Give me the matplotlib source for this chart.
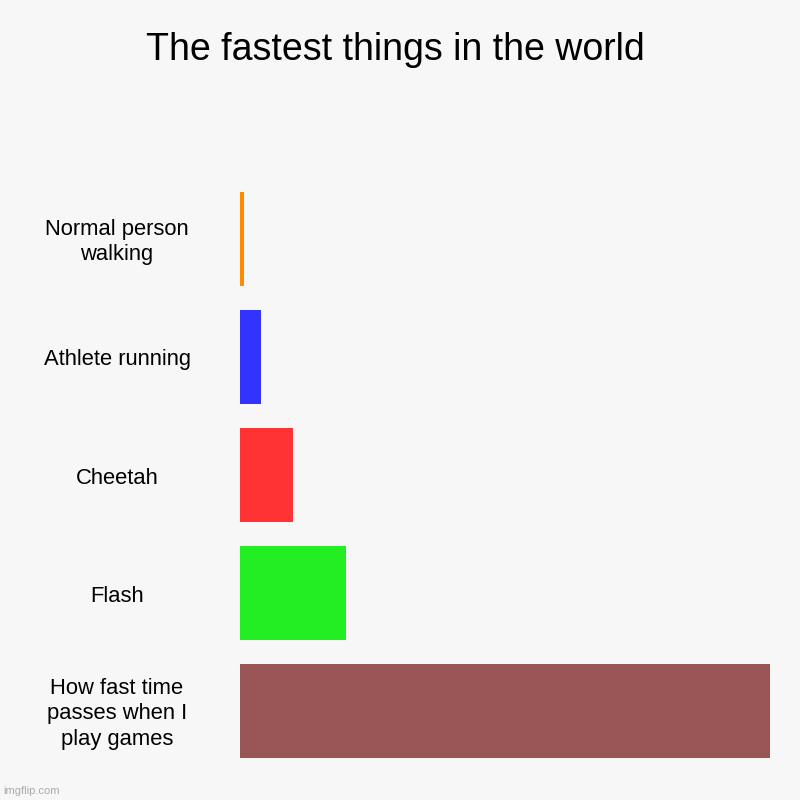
import matplotlib.pyplot as plt

plt.rcParams['font.family'] = ['Liberation Sans', 'DejaVu Sans']

labels = ['Normal person\nwalking', 'Athlete running', 'Cheetah', 'Flash',
          'How fast time\npasses when I\nplay games']
speeds = [0.8, 4, 10, 20, 100]
colors = ['#ff8c00', '#3333ff', '#ff3333', '#22ee22', '#995555']

bg = '#f7f7f7'
fig = plt.figure(figsize=(8, 8), dpi=100, facecolor=bg)
ax = fig.add_axes([0.3, 0.0375, 530 / 800, 0.7375])
ax.set_facecolor(bg)

pos = list(range(len(labels)))
ax.barh(pos, speeds, height=0.8, color=colors)
ax.set_xlim(0, max(speeds))
ax.set_ylim(len(labels) - 0.5, -0.5)
ax.axis('off')

# category labels, centred in the left margin
for i, lab in enumerate(labels):
    y_fig = 0.0375 + 0.7375 * (len(labels) - 0.5 - i) / len(labels) - 3 / 800
    fig.text(117 / 800, y_fig, lab, ha='center', va='center',
             fontsize=15.8, linespacing=1.26)

fig.text(395 / 800, 1 - 50 / 800, 'The fastest things in the world',
         ha='center', va='center', fontsize=27)
fig.text(3 / 800, 1 - 791 / 800, 'imgflip.com', ha='left', va='center',
         fontsize=8, color='#aaaaaa')

fig.savefig('out.png', dpi=100, facecolor=bg)
